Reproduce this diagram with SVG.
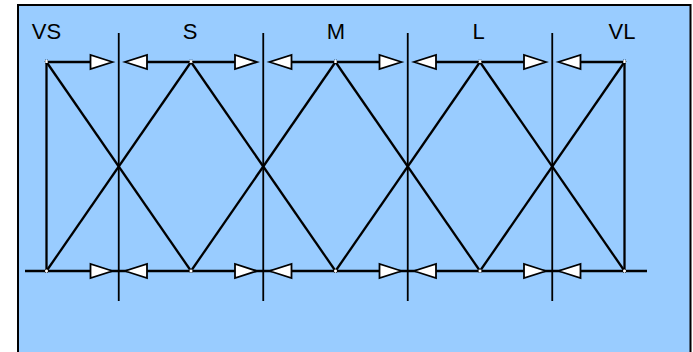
<svg xmlns="http://www.w3.org/2000/svg" width="693" height="352" viewBox="0 0 693 352">
<style>
.ln{stroke:#000;stroke-width:2.3;fill:none}
.vl{stroke:#000;stroke-width:1.8;fill:none}
.lbl{font-family:"Liberation Sans",Arial,sans-serif;font-size:22px;fill:#000;text-anchor:middle}
.pt{fill:#fff;stroke:#000;stroke-width:0.6;stroke-dasharray:1 1}
.ar{fill:#fff;stroke:#000;stroke-width:1.8;stroke-linejoin:miter}
</style>
<defs>
<polygon id="ar" class="ar" points="0,0 -22,-7 -22,7"/>
</defs>
<rect x="18" y="5" width="672.5" height="352" fill="#99CCFF" stroke="#000" stroke-width="2"/>
<g id="dividers">
<line class="vl" x1="118.75" y1="33" x2="118.75" y2="301"/>
<line class="vl" x1="263.25" y1="33" x2="263.25" y2="301"/>
<line class="vl" x1="407.75" y1="33" x2="407.75" y2="301"/>
<line class="vl" x1="552.25" y1="33" x2="552.25" y2="301"/>
</g>
<g id="connectors">
<line class="ln" x1="25" y1="271" x2="647" y2="271"/>
<line class="ln" x1="46.5" y1="62" x2="100" y2="62"/>
<line class="ln" x1="135" y1="62" x2="245" y2="62"/>
<line class="ln" x1="280" y1="62" x2="390" y2="62"/>
<line class="ln" x1="424" y1="62" x2="534" y2="62"/>
<line class="ln" x1="569" y1="62" x2="624.5" y2="62"/>
<line class="ln" x1="46.5" y1="62" x2="46.5" y2="271"/>
<line class="ln" x1="624.5" y1="62" x2="624.5" y2="271"/>
<line class="ln" x1="46.5" y1="62" x2="191" y2="271"/>
<line class="ln" x1="46.5" y1="271" x2="191" y2="62"/>
<line class="ln" x1="191" y1="62" x2="335.5" y2="271"/>
<line class="ln" x1="191" y1="271" x2="335.5" y2="62"/>
<line class="ln" x1="335.5" y1="62" x2="480" y2="271"/>
<line class="ln" x1="335.5" y1="271" x2="480" y2="62"/>
<line class="ln" x1="480" y1="62" x2="624.5" y2="271"/>
<line class="ln" x1="480" y1="271" x2="624.5" y2="62"/>
<use href="#ar" transform="translate(112.5,62)"/>
<use href="#ar" transform="translate(125,62) rotate(180)"/>
<use href="#ar" transform="translate(257,62)"/>
<use href="#ar" transform="translate(269.5,62) rotate(180)"/>
<use href="#ar" transform="translate(401.5,62)"/>
<use href="#ar" transform="translate(414,62) rotate(180)"/>
<use href="#ar" transform="translate(546,62)"/>
<use href="#ar" transform="translate(558.5,62) rotate(180)"/>
<use href="#ar" transform="translate(112.5,271)"/>
<use href="#ar" transform="translate(125,271) rotate(180)"/>
<use href="#ar" transform="translate(257,271)"/>
<use href="#ar" transform="translate(269.5,271) rotate(180)"/>
<use href="#ar" transform="translate(401.5,271)"/>
<use href="#ar" transform="translate(414,271) rotate(180)"/>
<use href="#ar" transform="translate(546,271)"/>
<use href="#ar" transform="translate(558.5,271) rotate(180)"/>
</g>
<g id="node-VS">
<text class="lbl" x="46.5" y="38.5">VS</text>
<rect class="pt" x="45" y="60" width="3" height="3"/>
<rect class="pt" x="45" y="269.5" width="3" height="3"/>
</g>
<g id="node-S">
<text class="lbl" x="190" y="38.5">S</text>
<rect class="pt" x="189.5" y="60" width="3" height="3"/>
<rect class="pt" x="189.5" y="269.5" width="3" height="3"/>
</g>
<g id="node-M">
<text class="lbl" x="336" y="38.5">M</text>
<rect class="pt" x="334" y="60" width="3" height="3"/>
<rect class="pt" x="334" y="269.5" width="3" height="3"/>
</g>
<g id="node-L">
<text class="lbl" x="478.5" y="38.5">L</text>
<rect class="pt" x="478.5" y="60" width="3" height="3"/>
<rect class="pt" x="478.5" y="269.5" width="3" height="3"/>
</g>
<g id="node-VL">
<text class="lbl" x="622" y="38.5">VL</text>
<rect class="pt" x="623" y="60" width="3" height="3"/>
<rect class="pt" x="623" y="269.5" width="3" height="3"/>
</g>
</svg>
